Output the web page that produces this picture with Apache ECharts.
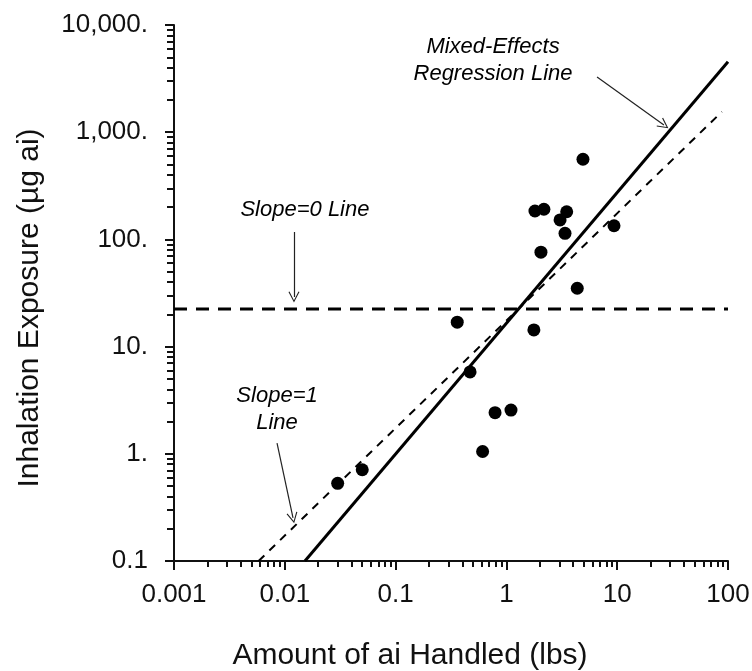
<!DOCTYPE html>
<html>
<head>
<meta charset="utf-8">
<script src="https://cdn.jsdelivr.net/npm/echarts@6/dist/echarts.min.js"></script>
<style>
  html, body { margin: 0; padding: 0; background: #fff; }
  #chart { width: 752px; height: 671px; }
</style>
</head>
<body>
<div id="chart"></div>
<script>
// Observed amount of active ingredient handled (lbs) and inhalation exposure (µg ai)
const amountHandled = [0.030, 0.050, 0.36, 0.47, 0.61, 0.79, 1.10, 1.77, 1.81, 2.18, 2.05, 3.05, 3.50, 3.38, 4.36, 4.91, 9.36];
const exposure      = [0.53, 0.71, 16.9, 5.8, 1.05, 2.42, 2.56, 14.3, 184, 191, 76, 152, 181, 114, 35, 559, 134];

// Fitted and reference lines as end points [amount, exposure]
const regressionLine = [[0.0152, 0.1], [100, 4550]];
const slopeOneLine   = [[0.0058, 0.1], [88, 1550]];
const slopeZeroLine  = [[0.001, 22.4], [100, 22.4]];

// Axis tick values and their printed labels
const xTicks = [0.001, 0.01, 0.1, 1, 10, 100];
const xTickLabels = ['0.001', '0.01', '0.1', '1', '10', '100'];
const yTicks = [0.1, 1, 10, 100, 1000, 10000];
const yTickLabels = ['0.1', '1.', '10.', '100.', '1,000.', '10,000.'];

const FONT = '"Liberation Sans", Arial, Helvetica, sans-serif';
const INK = '#111';

function tickLabel(ticks, labels) {
  return function (v) {
    const i = ticks.findIndex(t => Math.abs(Math.log10(t) - Math.log10(v)) < 1e-6);
    return i >= 0 ? labels[i] : '';
  };
}

const points = amountHandled.map((x, i) => [x, exposure[i]]);

// Chevron arrow head, tip pointing up
const arrowHead = 'path://M0,0 L6,11 L4.9,11.6 L0,2.4 L-4.9,11.6 L-6,11 Z';

const chart = echarts.init(document.getElementById('chart'), null, { renderer: 'canvas' });

chart.setOption({
  animation: false,
  backgroundColor: '#fff',
  grid: { left: 174, right: 24, top: 25, bottom: 110, containLabel: false, outerBoundsMode: 'none' },
  xAxis: {
    type: 'log',
    logBase: 10,
    min: 0.001,
    max: 100,
    name: 'Amount of ai Handled (lbs)',
    nameLocation: 'middle',
    nameGap: 80,
    nameTextStyle: { fontFamily: FONT, fontSize: 30, color: INK, padding: [0, 82, 0, 0] },
    axisLine: { show: true, lineStyle: { color: '#111', width: 2 } },
    axisTick: { show: true, inside: false, length: 9, lineStyle: { color: '#111', width: 2 } },
    minorTick: { show: true, splitNumber: 9, length: 6, lineStyle: { color: '#111', width: 2 } },
    axisLabel: { margin: 21, fontFamily: FONT, fontSize: 26, color: INK, formatter: tickLabel(xTicks, xTickLabels) },
    splitLine: { show: false },
    minorSplitLine: { show: false }
  },
  yAxis: {
    type: 'log',
    logBase: 10,
    min: 0.1,
    max: 10000,
    name: 'Inhalation Exposure (µg ai)',
    nameLocation: 'middle',
    nameGap: 129,
    nameTextStyle: { fontFamily: FONT, fontSize: 30, color: INK, padding: [0, 30, 0, 0] },
    axisLine: { show: true, lineStyle: { color: '#111', width: 2 } },
    axisTick: { show: true, inside: false, length: 9, lineStyle: { color: '#111', width: 2 } },
    minorTick: { show: true, splitNumber: 9, length: 7, lineStyle: { color: '#111', width: 2 } },
    axisLabel: { margin: 26, fontFamily: FONT, fontSize: 26, color: INK, formatter: tickLabel(yTicks, yTickLabels) },
    splitLine: { show: false },
    minorSplitLine: { show: false }
  },
  series: [
    {
      name: 'Slope=0',
      type: 'line',
      data: slopeZeroLine,
      showSymbol: false,
      silent: true,
      lineStyle: { color: '#000', width: 3, type: [13, 9] },
      z: 2
    },
    {
      name: 'Slope=1',
      type: 'line',
      data: slopeOneLine,
      showSymbol: false,
      silent: true,
      lineStyle: { color: '#000', width: 2, type: [8, 7] },
      z: 2
    },
    {
      name: 'Mixed-Effects Regression',
      type: 'line',
      data: regressionLine,
      showSymbol: false,
      silent: true,
      lineStyle: { color: '#000', width: 3 },
      z: 3
    },
    {
      name: 'Observations',
      type: 'scatter',
      data: points,
      symbol: 'circle',
      symbolSize: 13,
      itemStyle: { color: '#000', opacity: 1 },
      z: 4
    },
    {
      name: 'Callout arrows',
      type: 'lines',
      coordinateSystem: 'cartesian2d',
      silent: true,
      symbol: ['none', arrowHead],
      symbolSize: [11, 11],
      lineStyle: { color: '#222', width: 1.2, opacity: 1, curveness: 0 },
      data: [
        { coords: [[6.58, 3273], [26.4, 1167]] },
        { coords: [[0.0121, 117], [0.0121, 29.0]] },
        { coords: [[0.00851, 1.26], [0.01186, 0.252]] }
      ],
      z: 5
    },
    {
      name: 'Callout text',
      type: 'scatter',
      silent: true,
      symbol: 'circle',
      symbolSize: 0,
      itemStyle: { color: '#000', opacity: 1 },
      label: {
        show: true,
        position: 'inside',
        formatter: p => p.name,
        fontFamily: FONT,
        fontStyle: 'italic',
        fontSize: 22,
        lineHeight: 27,
        color: '#000',
        opacity: 1,
        textBorderWidth: 0,
        align: 'center'
      },
      data: [
        { name: 'Mixed-Effects\nRegression Line', value: [0.757, 4720] },
        { name: 'Slope=0 Line', value: [0.0152, 188] },
        { name: 'Slope=1\nLine', value: [0.00851, 2.62] }
      ],
      z: 6
    }
  ]
});
</script>
</body>
</html>
